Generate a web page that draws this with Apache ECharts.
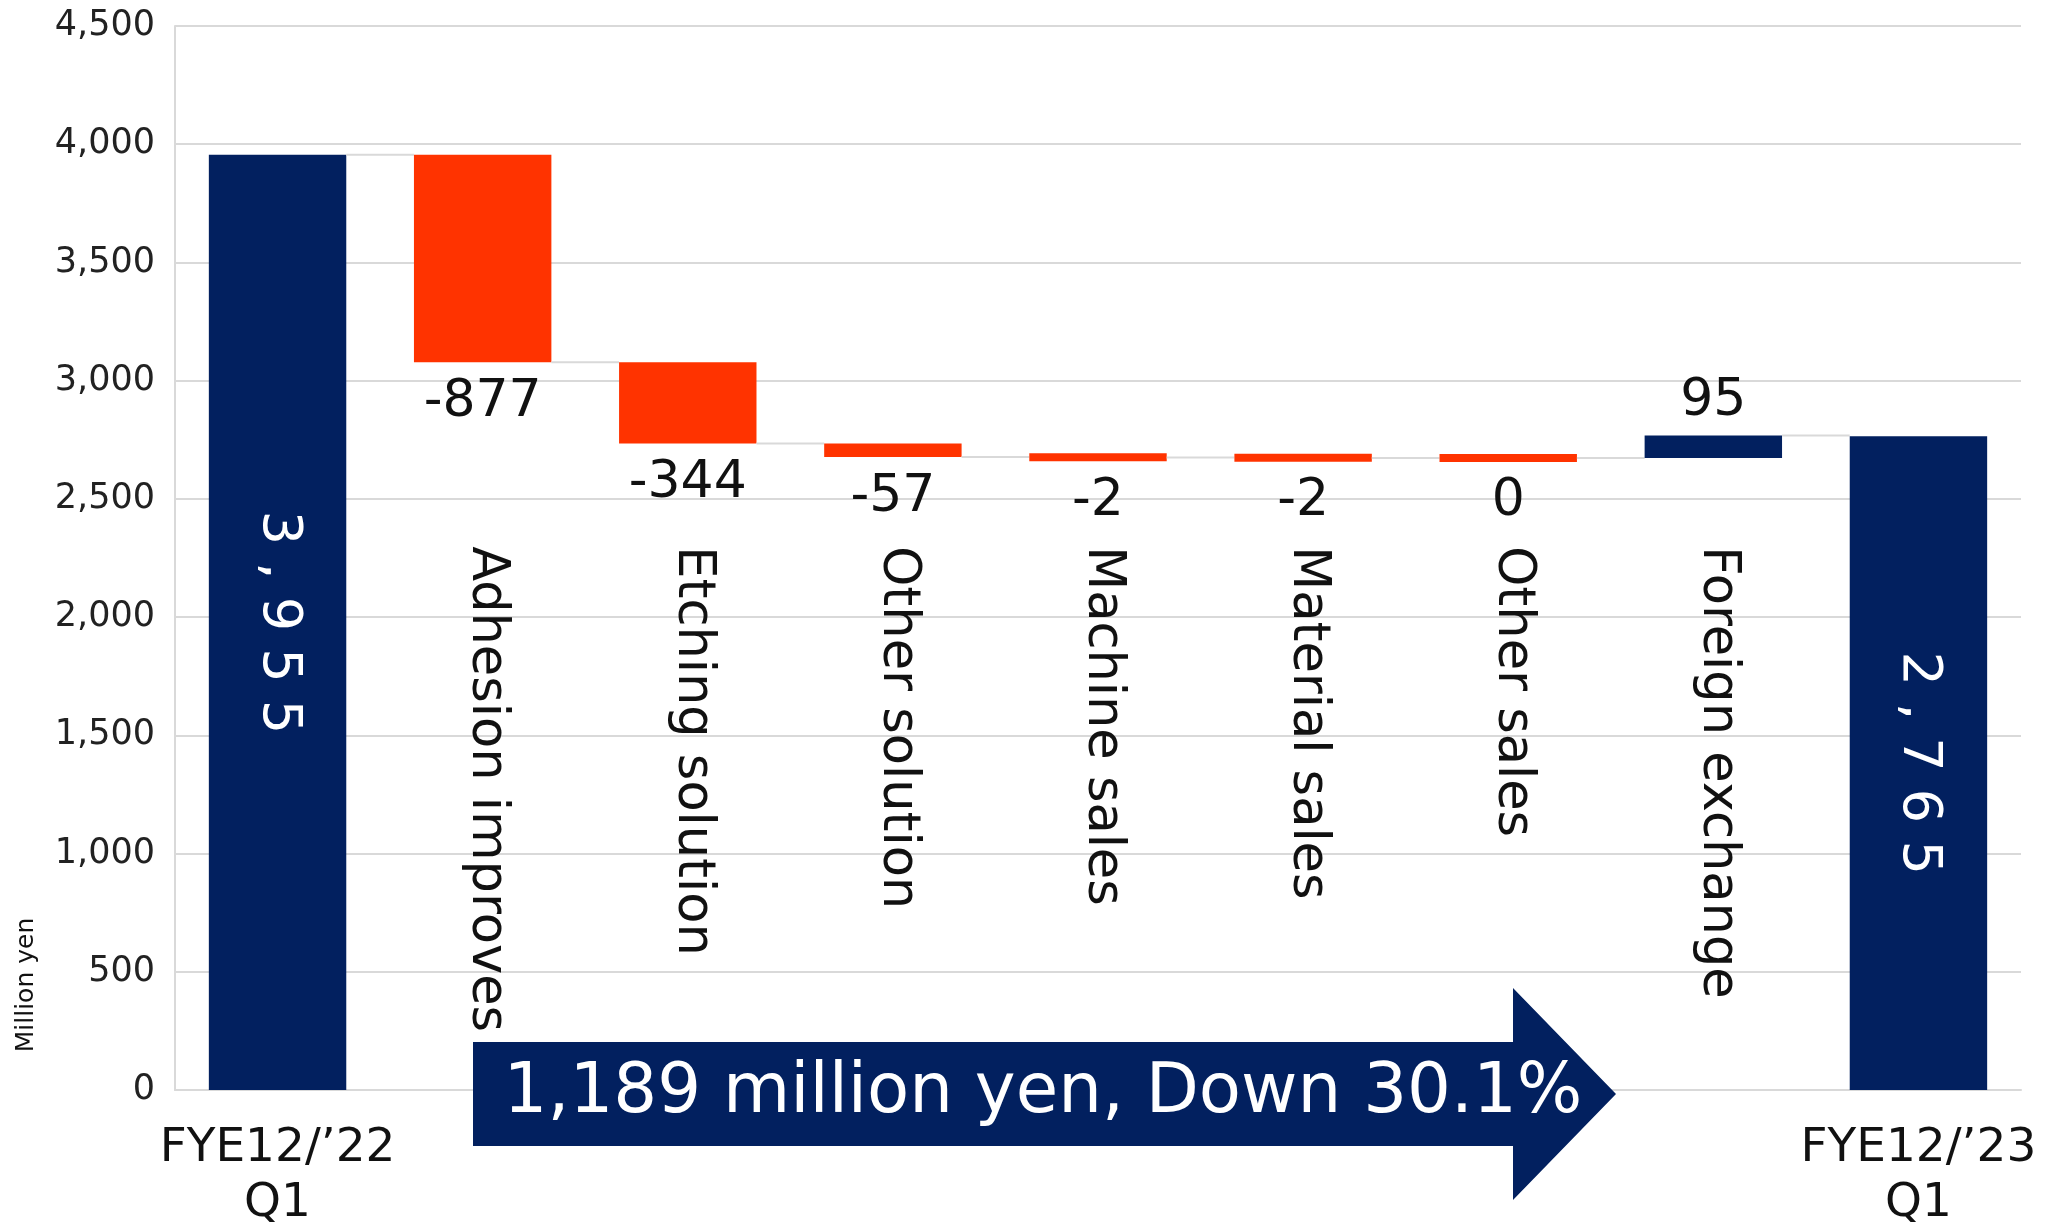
<!DOCTYPE html>
<html>
<head>
<meta charset="utf-8">
<title>Operating sales bridge</title>
<script src="https://cdn.jsdelivr.net/npm/echarts@6/dist/echarts.min.js"></script>
<style>
  html, body { margin: 0; padding: 0; background: #ffffff; }
  #chart { width: 2060px; height: 1225px; }
</style>
</head>
<body>
<div id="chart"></div>
<script>
// ---- data ----
const categories = [
  'FYE12/\u201922\nQ1',
  'Adhesion improves',
  'Etching solution',
  'Other solution',
  'Machine sales',
  'Material sales',
  'Other sales',
  'Foreign exchange',
  'FYE12/\u201923\nQ1'
];
const startTotal = 3955;
const endTotal = 2765;
const changes = [-877, -344, -57, -2, -2, 0, 95];
const yAxisTicks = [0, 500, 1000, 1500, 2000, 2500, 3000, 3500, 4000, 4500];
const summaryText = '1,189 million yen, Down 30.1%';
const unitLabel = 'Million yen';

// ---- styling ----
const NAVY = '#02205f';
const RED = '#ff3300';
const GRID = '#d9d9d9';
const FONT = '"DejaVu Sans", Verdana, sans-serif';
const MIN_BAR_PX = 8;          // keep tiny changes visible
const NAME_TOP_VALUE = 2300;   // where the rotated item names start

// rows: [index, low, high, value, kind(0 = total, 1 = change), connector level]
const rows = [];
let level = startTotal;
rows.push([0, 0, startTotal, startTotal, 0, startTotal]);
changes.forEach(function (c, k) {
  const next = level + c;
  rows.push([k + 1, Math.min(level, next), Math.max(level, next), c, 1, next]);
  level = next;
});
rows.push([categories.length - 1, 0, endTotal, endTotal, 0, NaN]);

function withComma(v) {
  return String(v).replace(/\B(?=(\d{3})+(?!\d))/g, ',');
}

function renderItem(params, api) {
  const idx = api.value(0);
  const lo = api.value(1);
  const hi = api.value(2);
  const val = api.value(3);
  const kind = api.value(4);
  const link = api.value(5);
  const band = api.size([1, 0])[0];
  const w = band * 0.67;
  const cx = api.coord([idx, 0])[0];
  const yLo = api.coord([idx, lo])[1];
  const yHi = api.coord([idx, hi])[1];
  let top = yHi;
  let h = yLo - yHi;
  if (h < MIN_BAR_PX) {
    const mid = (yLo + yHi) / 2;
    top = mid - MIN_BAR_PX / 2;
    h = MIN_BAR_PX;
  }
  const color = (kind === 0 || val > 0) ? NAVY : RED;
  const children = [{
    type: 'rect',
    shape: { x: cx - w / 2, y: top, width: w, height: h },
    style: { fill: color }
  }];
  if (!isNaN(link)) {
    const ly = api.coord([idx, link])[1];
    children.push({
      type: 'line',
      shape: { x1: cx + w / 2, y1: ly, x2: cx + band - w / 2, y2: ly },
      style: { stroke: GRID, lineWidth: 2 }
    });
  }
  if (kind === 0) {
    children.push({
      type: 'text',
      x: cx, y: top + h / 2,
      rotation: -Math.PI / 2,
      style: {
        text: withComma(val).split('').join(' '),
        fill: '#ffffff', font: '54px ' + FONT,
        align: 'center', verticalAlign: 'middle'
      }
    });
  } else {
    const above = val > 0;
    children.push({
      type: 'text',
      x: cx, y: above ? top - 8 : top + h + 14,
      style: {
        text: String(val),
        fill: '#111111', font: '52px ' + FONT,
        align: 'center', verticalAlign: above ? 'bottom' : 'top'
      }
    });
    children.push({
      type: 'text',
      x: cx + 4, y: api.coord([idx, NAME_TOP_VALUE])[1],
      rotation: -Math.PI / 2,
      style: {
        text: categories[idx],
        fill: '#111111', font: '51px ' + FONT,
        align: 'left', verticalAlign: 'middle'
      }
    });
  }
  return { type: 'group', children: children };
}

const chart = echarts.init(document.getElementById('chart'), null, { renderer: 'canvas' });

chart.setOption({
  animation: false,
  backgroundColor: '#ffffff',
  grid: { left: 175, right: 39, top: 26, bottom: 135, containLabel: false, outerBoundsMode: 'none' },
  xAxis: {
    type: 'category',
    data: categories,
    boundaryGap: true,
    axisLine: { show: true, lineStyle: { color: GRID, width: 2 } },
    axisTick: { show: false },
    splitLine: { show: false },
    axisLabel: {
      interval: 0,
      margin: 31,
      color: '#111111',
      fontFamily: FONT,
      fontSize: 47,
      lineHeight: 55,
      formatter: function (v, i) {
        return (i === 0 || i === categories.length - 1) ? v : '';
      }
    }
  },
  yAxis: {
    type: 'value',
    min: yAxisTicks[0],
    max: yAxisTicks[yAxisTicks.length - 1],
    interval: yAxisTicks[1] - yAxisTicks[0],
    axisLine: { show: true, lineStyle: { color: GRID, width: 2 } },
    axisTick: { show: false },
    splitLine: { show: true, lineStyle: { color: GRID, width: 2 } },
    axisLabel: {
      margin: 20,
      color: '#222222',
      fontFamily: FONT,
      fontSize: 35,
      formatter: function (v) { return withComma(v); }
    }
  },
  series: [{
    type: 'custom',
    renderItem: renderItem,
    encode: { x: 0, y: [1, 2] },
    data: rows,
    z: 3
  }],
  graphic: [
    {
      type: 'text',
      x: 26, y: 985,
      rotation: Math.PI / 2,
      style: {
        text: unitLabel,
        fill: '#111111', font: '25px ' + FONT,
        align: 'center', verticalAlign: 'middle'
      }
    },
    {
      type: 'polygon',
      z: 10,
      shape: {
        points: [[473, 1042], [1513, 1042], [1513, 988], [1616, 1094], [1513, 1200], [1513, 1146], [473, 1146]]
      },
      style: { fill: NAVY }
    },
    {
      type: 'text',
      z: 11,
      x: 1043, y: 1094,
      style: {
        text: summaryText,
        fill: '#ffffff', font: '69px ' + FONT,
        align: 'center', verticalAlign: 'middle'
      }
    }
  ]
});
</script>
</body>
</html>
